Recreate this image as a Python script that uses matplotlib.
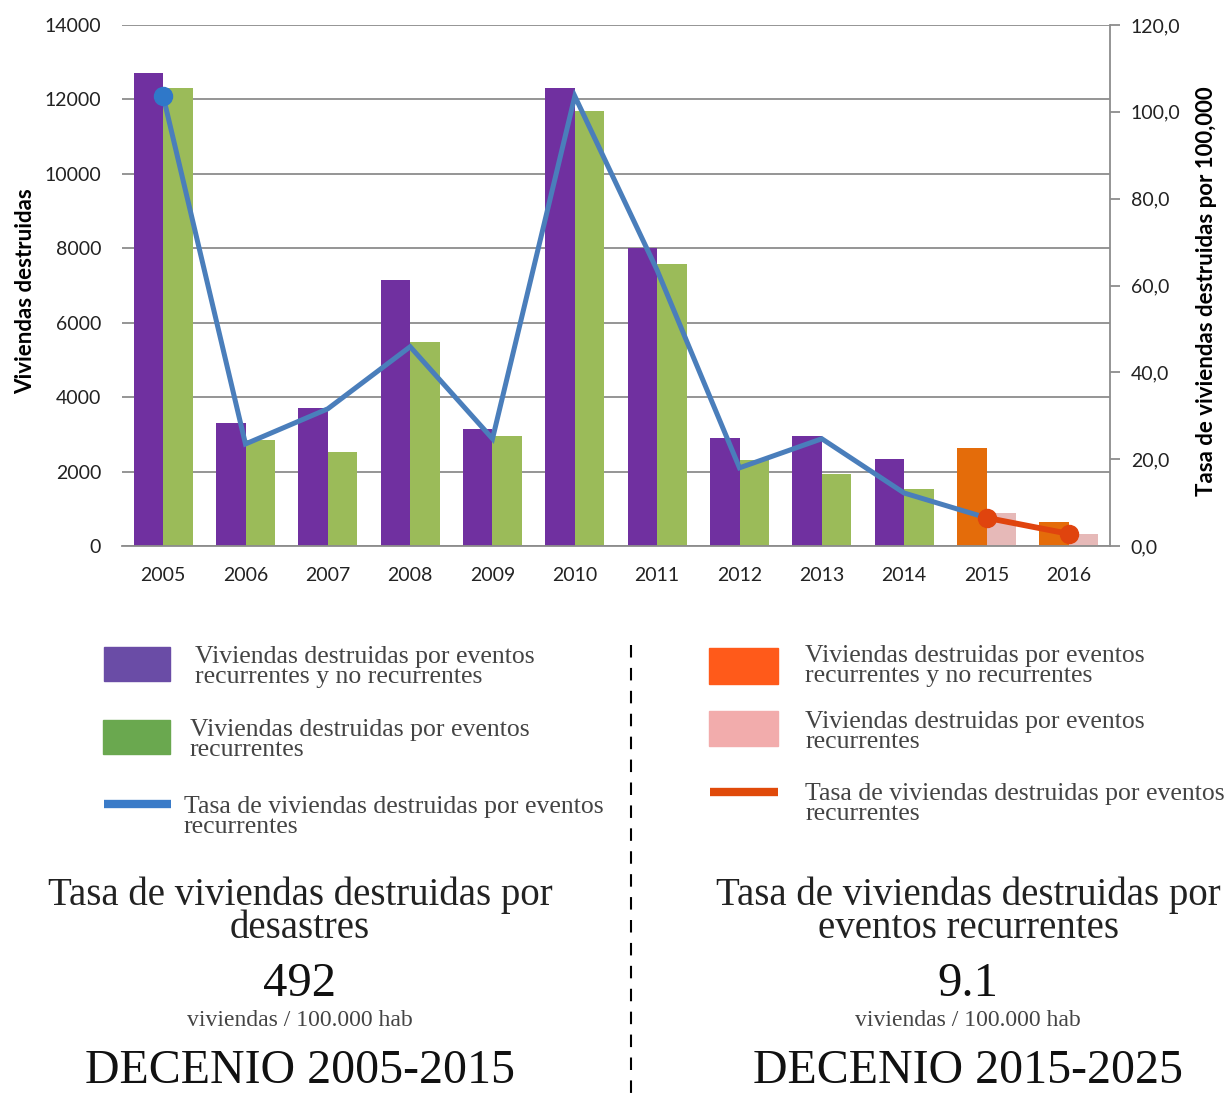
import matplotlib
matplotlib.use('Agg')
import matplotlib.pyplot as plt
from matplotlib.patches import Rectangle
from matplotlib.lines import Line2D
import numpy as np


# -----------------------------------------------------------------------------
# data
# -----------------------------------------------------------------------------
years = ['2005', '2006', '2007', '2008', '2009', '2010',
         '2011', '2012', '2013', '2014', '2015', '2016']
total_destroyed = [12700, 3300, 3700, 7150, 3150, 12300,
                   8000, 2900, 2950, 2340, 2630, 650]
recurrent_destroyed = [12300, 2850, 2530, 5480, 2950, 11700,
                       7580, 2300, 1940, 1530, 890, 320]
rate_per_100k = [103.6, 23.5, 31.6, 45.9, 24.7, 103.6,
                 63.5, 18.0, 24.7, 12.2, 6.5, 2.8]
split_year = '2015'   # first year of the new decade

left_ticks = [0, 2000, 4000, 6000, 8000, 10000, 12000, 14000]
right_ticks = [0, 20, 40, 60, 80, 100, 120]

legend_left = ['Viviendas destruidas por eventos\nrecurrentes y no recurrentes',
               'Viviendas destruidas por eventos\nrecurrentes',
               'Tasa de viviendas destruidas por eventos\nrecurrentes']
legend_right = legend_left

summary_title = ['Tasa de viviendas destruidas por\ndesastres',
                 'Tasa de viviendas destruidas por\neventos recurrentes']
summary_value = ['492', '9.1']
summary_unit = 'viviendas / 100.000 hab'
summary_decade = ['DECENIO 2005-2015', 'DECENIO 2015-2025']

# -----------------------------------------------------------------------------
# styles
# -----------------------------------------------------------------------------
PURPLE, GREEN = '#7030a0', '#9bbb59'
ORANGE, PINK = '#e46c0a', '#e6b9b8'
BLUE, RED = '#4a7ebb', '#e0440e'
SANS = ['Lato', 'DejaVu Sans']
SERIF = ['Liberation Serif', 'DejaVu Serif']

W, H = 1224, 1102
fig = plt.figure(figsize=(W / 100, H / 100), dpi=100)


def fx(px):
    return px / W


def fy(py):
    return 1 - py / H


# -----------------------------------------------------------------------------
# chart
# -----------------------------------------------------------------------------
ax = fig.add_axes([fx(122), fy(546), fx(1110) - fx(122), fy(25) - fy(546)])
ax2 = ax.twinx()

x = np.arange(len(years))
split = years.index(split_year)
col_total = [PURPLE if i < split else ORANGE for i in range(len(years))]
col_rec = [GREEN if i < split else PINK for i in range(len(years))]
bw = 0.36
ax.bar(x - bw / 2, total_destroyed, bw, color=col_total, zorder=2)
ax.bar(x + bw / 2, recurrent_destroyed, bw, color=col_rec, zorder=2)

ax.set_xlim(-0.5, len(years) - 0.5)
ax.set_ylim(0, 14000)
ax.set_yticks(left_ticks)
ax.set_xticks(x)
ax.set_xticklabels(years)
ax.grid(axis='y', color='#8c8c8c', lw=1.3, zorder=0)
ax.set_axisbelow(True)
for s in ['top', 'left', 'right']:
    ax.spines[s].set_visible(False)
ax.spines['bottom'].set_color('#8c8c8c')
ax.spines['bottom'].set_linewidth(1.3)
ax.tick_params(axis='both', length=0, labelsize=14, colors='#222222',
               labelfontfamily=SANS)
ax.tick_params(axis='x', pad=15)
ax.tick_params(axis='y', pad=15)
ax.set_ylabel('Viviendas destruidas', fontsize=16, fontweight='bold',
              family=SANS)
ax.yaxis.set_label_coords(-0.087, 0.49)

# rate line: blue for first decade, red for the second
ax2.plot(x[:split + 1], rate_per_100k[:split + 1], color=BLUE, lw=3.6,
         zorder=3, solid_joinstyle='miter')
ax2.plot(x[0], rate_per_100k[0], 'o', color='#2f78c9', ms=13, zorder=4)
ax2.plot(x[split:], rate_per_100k[split:], color=RED, lw=4.2, marker='o',
         ms=13, zorder=4)
ax2.set_ylim(0, 120)
ax2.set_yticks(right_ticks)
ax2.set_yticklabels([f'{v:.1f}'.replace('.', ',') for v in right_ticks])
for s in ['top', 'left', 'bottom']:
    ax2.spines[s].set_visible(False)
ax2.spines['right'].set_color('#8c8c8c')
ax2.spines['right'].set_linewidth(1.3)
ax2.tick_params(axis='y', length=7, width=1.3, color='#8c8c8c', labelsize=14,
                labelcolor='#222222', labelfontfamily=SANS, pad=8)
ax2.set_ylabel('Tasa de viviendas destruidas por 100,000', fontsize=16,
               fontweight='bold', family=SANS)
ax2.yaxis.set_label_coords(1.087, 0.49)

# -----------------------------------------------------------------------------
# legends
# -----------------------------------------------------------------------------
def patch(x0, y0, x1, y1, color):
    fig.patches.append(Rectangle((fx(x0), fy(y1)), fx(x1) - fx(x0),
                                 fy(y0) - fy(y1), color=color,
                                 transform=fig.transFigure))


def bar_line(x0, x1, y, color):
    fig.lines.append(Line2D([fx(x0), fx(x1)], [fy(y), fy(y)], color=color,
                            lw=6, transform=fig.transFigure,
                            solid_capstyle='butt'))


def label(xp, yp, txt):
    fig.text(fx(xp), fy(yp), txt, fontsize=18.5, family=SERIF,
             color='#444444', va='center', ha='left', linespacing=0.85)


patch(104, 647, 170, 681, '#6a4ca6')
patch(103, 720, 170, 754, '#6aa84f')
bar_line(104, 171, 804, '#3a7bc8')
label(195, 667, legend_left[0])
label(190, 740, legend_left[1])
label(184, 817, legend_left[2])

patch(709, 648, 778, 684, '#ff5a1a')
patch(709, 711, 778, 746, '#f2acac')
bar_line(710, 778, 792, '#e04a0a')
label(805, 666, legend_right[0])
label(805, 732, legend_right[1])
label(805, 804, legend_right[2])

# dashed divider
fig.lines.append(Line2D([fx(631), fx(631)], [fy(645), fy(1102)], color='black',
                        lw=1.5, ls=(0, (6, 5)), transform=fig.transFigure))

# -----------------------------------------------------------------------------
# summaries
# -----------------------------------------------------------------------------
for cx, title, value, decade in zip([300, 968], summary_title, summary_value,
                                    summary_decade):
    fig.text(fx(cx), fy(912), title, fontsize=28, family=SERIF,
             color='#222222', ha='center', va='center', linespacing=0.85)
    fig.text(fx(cx), fy(984), value, fontsize=35, family=SERIF, color='#111111',
             ha='center', va='center')
    fig.text(fx(cx), fy(1020), summary_unit, fontsize=17, family=SERIF,
             color='#444444', ha='center', va='center')
    fig.text(fx(cx), fy(1071), decade, fontsize=34.5, family=SERIF,
             color='#111111', ha='center', va='center')

fig.savefig('out.png', dpi=100)
